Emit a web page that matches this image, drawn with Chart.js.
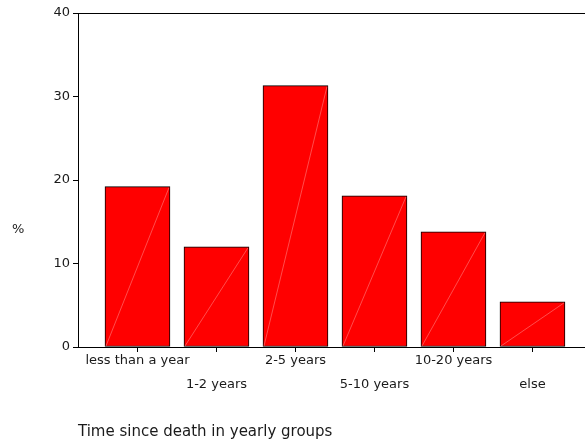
<!DOCTYPE html>
<html>
<head>
<meta charset="utf-8">
<script src="https://cdn.jsdelivr.net/npm/chart.js@4/dist/chart.umd.min.js"></script>
<style>
  html, body { margin: 0; padding: 0; background: #ffffff; }
  #wrap { width: 585px; height: 442px; position: relative; }
</style>
</head>
<body>
<div id="wrap"><canvas id="c" width="585" height="442"></canvas></div>
<script>
const categories = ['less than a year', '1-2 years', '2-5 years', '5-10 years', '10-20 years', 'else'];
const percentValues = [19.2, 12.0, 31.3, 18.1, 13.8, 5.4];
const yTicks = [0, 10, 20, 30, 40];
const yAxisLabel = '%';
const xAxisTitle = 'Time since death in yearly groups';

const textColor = '#1a1a1a';
const fontFamily = '"DejaVu Sans", "Liberation Sans", Arial, sans-serif';

const extras = {
  id: 'extras',
  afterDatasetsDraw(chart) {
    const ctx = chart.ctx;
    const meta = chart.getDatasetMeta(0);
    ctx.save();
    ctx.strokeStyle = 'rgba(255,170,170,0.75)';
    ctx.lineWidth = 0.6;
    meta.data.forEach(el => {
      const p = el.getProps(['x', 'y', 'base', 'width'], true);
      const l = p.x - p.width / 2 + 1, r = p.x + p.width / 2 - 1;
      ctx.beginPath();
      ctx.moveTo(l, p.base - 0.5);
      ctx.lineTo(r, p.y + 1);
      ctx.stroke();
    });
    ctx.restore();
  },
  afterDraw(chart) {
    const ctx = chart.ctx;
    const a = chart.chartArea;
    ctx.save();
    ctx.strokeStyle = '#000';
    ctx.lineWidth = 1;
    ctx.beginPath();
    ctx.moveTo(a.left, Math.round(a.top) + 0.5);
    ctx.lineTo(a.right, Math.round(a.top) + 0.5);
    ctx.stroke();
    ctx.fillStyle = textColor;
    ctx.font = '13px ' + fontFamily;
    ctx.textAlign = 'left';
    ctx.textBaseline = 'middle';
    ctx.fillText(yAxisLabel, 12, 230);
    ctx.restore();
  }
};

new Chart(document.getElementById('c'), {
  type: 'bar',
  data: {
    datasets: [{
      data: percentValues.map((v, i) => ({ x: i, y: v })),
      backgroundColor: '#ff0000',
      borderColor: '#000000',
      borderWidth: 1,
      borderSkipped: false,
      barThickness: 65
    }]
  },
  options: {
    responsive: false,
    animation: false,
    devicePixelRatio: 1,
    layout: { padding: { left: 0, right: 0, top: 13, bottom: 0 } },
    plugins: { legend: { display: false }, tooltip: { enabled: false } },
    scales: {
      x: {
        type: 'linear',
        offset: false,
        min: -0.753,
        max: 5.665,
        afterBuildTicks(scale) { scale.ticks = categories.map((_, i) => ({ value: i })); },
        afterFit(scale) { scale.height = 95; },
        grid: { display: true, offset: false, drawOnChartArea: false, drawTicks: true, tickLength: 5, color: '#000', lineWidth: 1 },
        border: { display: true, color: '#000', width: 1 },
        ticks: {
          autoSkip: false,
          maxRotation: 0,
          minRotation: 0,
          padding: -3,
          color: textColor,
          font: { family: fontFamily, size: 13, lineHeight: 24 / 13 },
          callback(value) {
            const i = Math.round(value);
            const name = categories[i];
            return i % 2 === 0 ? [name] : ['', name];
          }
        },
        title: {
          display: true,
          text: xAxisTitle,
          align: 'start',
          color: textColor,
          font: { family: fontFamily, size: 15 },
          padding: { top: 0, bottom: 1 }
        }
      },
      y: {
        min: 0,
        max: 40,
        afterBuildTicks(scale) { scale.ticks = yTicks.map(v => ({ value: v })); },
        afterFit(scale) { scale.width = 78; },
        grid: { display: true, drawOnChartArea: false, drawTicks: true, tickLength: 5, color: '#000', lineWidth: 1 },
        border: { display: true, color: '#000', width: 1 },
        ticks: {
          padding: 3,
          color: textColor,
          font: { family: fontFamily, size: 13 }
        }
      }
    }
  },
  plugins: [extras]
});
</script>
</body>
</html>
